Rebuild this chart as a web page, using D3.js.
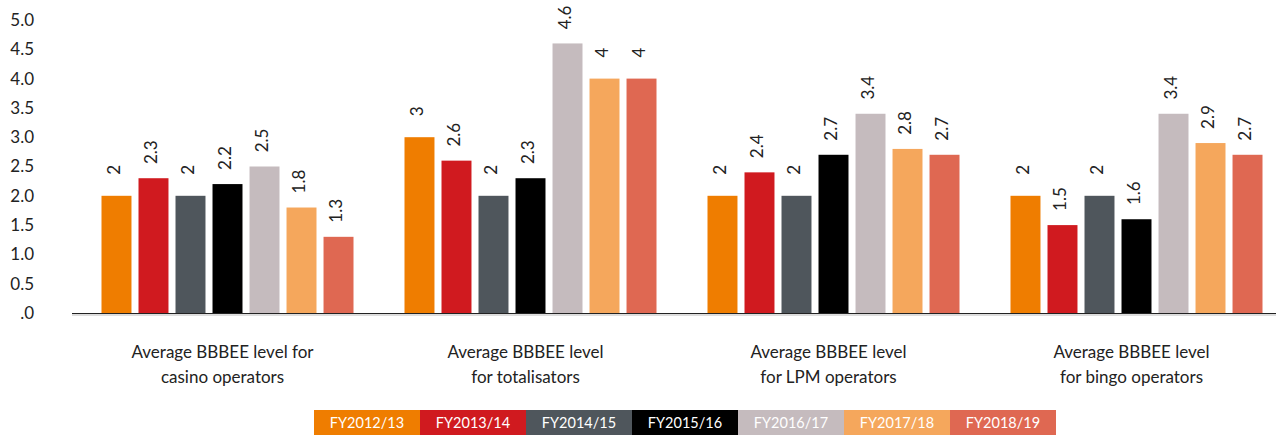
<!DOCTYPE html>
<html>
<head>
<meta charset="utf-8">
<script src="https://cdn.jsdelivr.net/npm/d3@7"></script>
<style>
  body { margin: 0; background: #fff; }
  svg { display: block; font-family: Lato, "Open Sans", sans-serif; }
</style>
</head>
<body>
<div id="plot"></div>
<script>
// data
var categories = [
  ["Average BBBEE level for", "casino operators"],
  ["Average BBBEE level", "for totalisators"],
  ["Average BBBEE level", "for LPM operators"],
  ["Average BBBEE level", "for bingo operators"]
];
var years = ["FY2012/13", "FY2013/14", "FY2014/15", "FY2015/16", "FY2016/17", "FY2017/18", "FY2018/19"];
var casino = [2, 2.3, 2, 2.2, 2.5, 1.8, 1.3];
var totalisators = [3, 2.6, 2, 2.3, 4.6, 4, 4];
var lpm = [2, 2.4, 2, 2.7, 3.4, 2.8, 2.7];
var bingo = [2, 1.5, 2, 1.6, 3.4, 2.9, 2.7];
var yTicks = [0, 0.5, 1, 1.5, 2, 2.5, 3, 3.5, 4, 4.5, 5];
var colors = ["#ef7d00", "#d01a1f", "#4f565c", "#000000", "#c5bbbe", "#f5a75c", "#df6852"];

var seriesByCat = [casino, totalisators, lpm, bingo];

var w = 1276, h = 435;
var svg = d3.select("#plot").append("svg")
    .attr("width", w)
    .attr("height", h);

// scales
var x0 = d3.scaleBand()
    .domain(d3.range(categories.length))
    .range([76, 1288]);

var x1 = d3.scaleBand()
    .domain(years)
    .range([0, 252])
    .paddingInner(0.19);

var y = d3.scaleLinear()
    .domain([0, 5])
    .range([313, 20]);

var color = d3.scaleOrdinal().domain(years).range(colors);

// y axis (labels only)
var yAxis = d3.axisLeft(y)
    .tickValues(yTicks)
    .tickSize(0)
    .tickPadding(0)
    .tickFormat(d => d === 0 ? ".0" : d.toFixed(1));

svg.append("g")
    .attr("transform", "translate(34,0)")
    .call(yAxis)
    .call(g => g.select(".domain").remove())
    .selectAll("text")
      .attr("font-family", "Lato, sans-serif")
      .attr("font-size", "17px")
      .attr("fill", "#222");

// bars
var groups = svg.append("g").selectAll("g")
    .data(seriesByCat)
  .enter().append("g")
    .attr("transform", (d, i) => `translate(${x0(i) + (x0.bandwidth() - 252) / 2},0)`);

groups.selectAll("rect")
    .data(d => d.map((v, j) => ({year: years[j], value: v})))
  .enter().append("rect")
    .attr("x", d => x1(d.year))
    .attr("y", d => y(d.value))
    .attr("width", x1.bandwidth())
    .attr("height", d => y(0) - y(d.value))
    .attr("fill", d => color(d.year));

// value labels
groups.selectAll("text")
    .data(d => d.map((v, j) => ({year: years[j], value: v})))
  .enter().append("text")
    .attr("transform", d => `translate(${x1(d.year) + x1.bandwidth() / 2 - 2},${y(d.value) - 26}) rotate(-90)`)
    .attr("text-anchor", "middle")
    .attr("dy", "0.35em")
    .attr("font-size", "17px")
    .attr("fill", "#222")
    .text(d => d.value);

// x axis line
svg.append("line")
    .attr("x1", 72).attr("x2", 1276)
    .attr("y1", 313.5).attr("y2", 313.5)
    .attr("stroke", "#222")
    .attr("stroke-width", 1.2);
svg.append("line")
    .attr("x1", 72).attr("x2", 1276)
    .attr("y1", 315).attr("y2", 315)
    .attr("stroke", "#bbb")
    .attr("stroke-width", 1);

// category labels
var catLabels = svg.append("g").selectAll("text")
    .data(categories)
  .enter().append("text")
    .attr("x", (d, i) => x0(i) + x0.bandwidth() / 2 - 5)
    .attr("y", 358)
    .attr("text-anchor", "middle")
    .attr("font-size", "17px")
    .attr("fill", "#222");

catLabels.selectAll("tspan")
    .data(d => d)
  .enter().append("tspan")
    .attr("x", function() { return d3.select(this.parentNode).attr("x"); })
    .attr("dy", (d, i) => i === 0 ? 0 : 25)
    .text(d => d);

// legend
var legW = 106;
var legend = svg.append("g")
    .attr("transform", "translate(314,410)")
  .selectAll("g")
    .data(years)
  .enter().append("g")
    .attr("transform", (d, i) => `translate(${i * legW},0)`);

legend.append("rect")
    .attr("width", legW)
    .attr("height", 25)
    .attr("fill", d => color(d));

legend.append("text")
    .attr("x", legW / 2)
    .attr("y", 13)
    .attr("dy", "0.35em")
    .attr("text-anchor", "middle")
    .attr("font-size", "14.5px")
    .attr("fill", "#fff")
    .text(d => d);
</script>
</body>
</html>
